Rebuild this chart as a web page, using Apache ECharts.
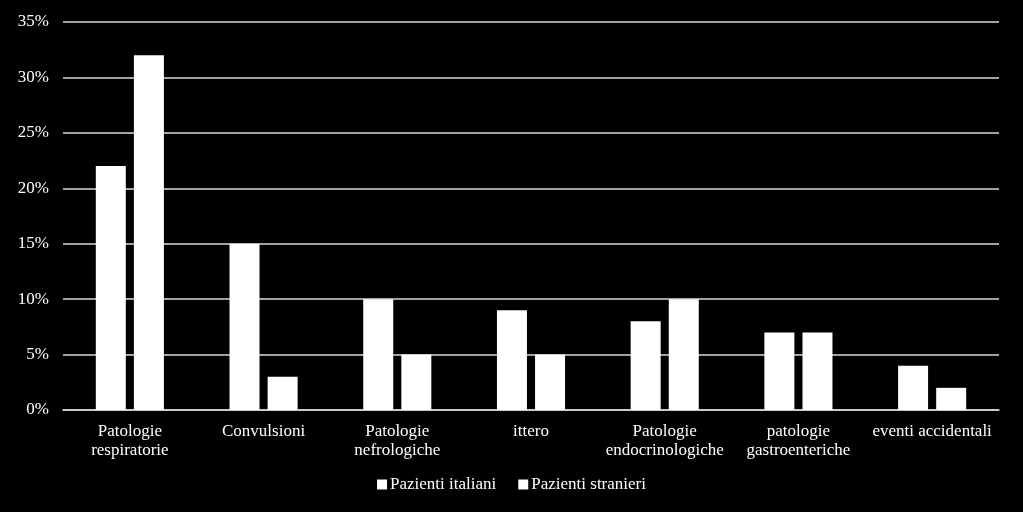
<!DOCTYPE html>
<html><head><meta charset="utf-8">
<script src="https://cdn.jsdelivr.net/npm/echarts@6/dist/echarts.min.js"></script>
<style>html,body{margin:0;padding:0;background:#000;}#c{width:1023px;height:512px;}</style>
</head><body><div id="c"></div>
<script>
const categories = ['Patologie\nrespiratorie','Convulsioni','Patologie\nnefrologiche','ittero','Patologie\nendocrinologiche','patologie\ngastroenteriche','eventi accidentali'];
const italiani = [22, 15, 10, 9, 8, 7, 4];
const stranieri = [32, 3, 5, 5, 10, 7, 2];
const seriesNames = ['Pazienti italiani','Pazienti stranieri'];
const font = '"Liberation Serif", "Times New Roman", serif';
const chart = echarts.init(document.getElementById('c'));
chart.setOption({
  backgroundColor: '#000',
  animation: false,
  grid: {left: 63, right: 24, top: 22, bottom: 102, containLabel: false},
  legend: {
    data: seriesNames, bottom: 14, left: 'center', itemWidth: 10, itemHeight: 10, itemGap: 22,
    icon: 'rect',
    textStyle: {color: '#fff', fontFamily: font, fontSize: 17, padding: [0, 0, 0, -2]}
  },
  xAxis: {
    type: 'category', data: categories,
    axisLine: {lineStyle: {color: '#d9d9d9', width: 1.5}},
    axisTick: {show: false},
    axisLabel: {color: '#fff', fontFamily: font, fontSize: 17, lineHeight: 19, margin: 12, interval: 0}
  },
  yAxis: {
    type: 'value', min: 0, max: 35, interval: 5,
    axisLine: {show: false}, axisTick: {show: false},
    splitLine: {lineStyle: {color: '#d9d9d9', width: 1.5}},
    axisLabel: {color: '#fff', fontFamily: font, fontSize: 17, formatter: '{value}%', margin: 14}
  },
  series: [
    {name: seriesNames[0], type: 'bar', data: italiani, barWidth: 30, barGap: '27%', itemStyle: {color: '#fff'}},
    {name: seriesNames[1], type: 'bar', data: stranieri, barWidth: 30, barGap: '27%', itemStyle: {color: '#fff'}}
  ]
});
</script></body></html>
